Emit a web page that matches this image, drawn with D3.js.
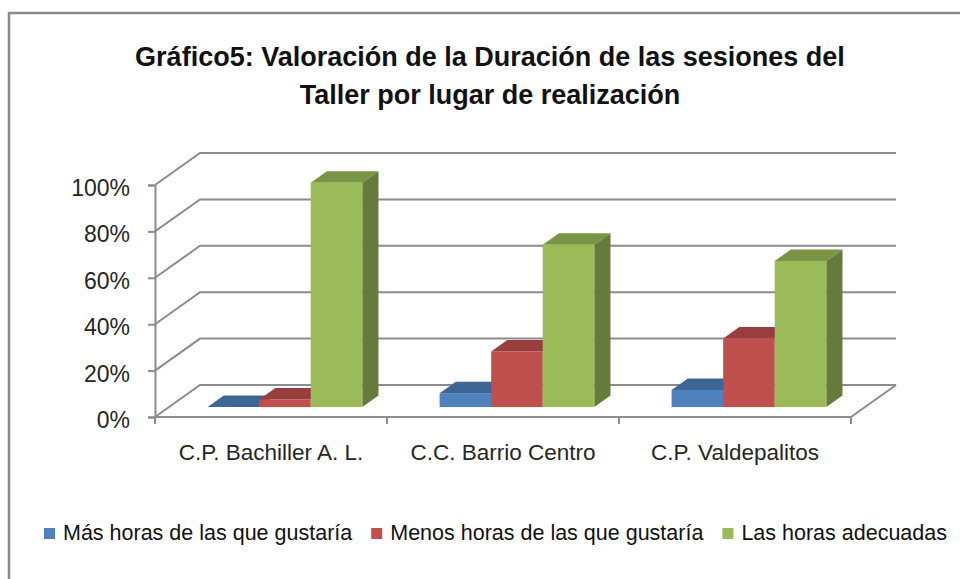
<!DOCTYPE html>
<html>
<head>
<meta charset="utf-8">
<title>Gráfico5</title>
<style>
  body { margin: 0; background: #fff; }
  svg { display: block; font-family: "Liberation Sans", Arial, sans-serif; }
</style>
</head>
<body>
<svg id="chart" width="960" height="579"></svg>
<script src="https://cdn.jsdelivr.net/npm/d3@7/dist/d3.min.js"></script>
<script>
// datos
var categorias = ["C.P. Bachiller A. L.", "C.C. Barrio Centro", "C.P. Valdepalitos"];
var series = ["Más horas de las que gustaría", "Menos horas de las que gustaría", "Las horas adecuadas"];
var masHoras = [0, 6, 7.4];
var menosHoras = [3.3, 24, 29.6];
var horasAdecuadas = [96.7, 70, 63];
var yTicks = [0, 20, 40, 60, 80, 100];
var titulo = ["Gráfico5: Valoración de la Duración de las sesiones del", "Taller por lugar de realización"];

var valores = [masHoras, menosHoras, horasAdecuadas];
var colores = ["#4F81BD", "#C0504D", "#9BBB59"];

var svg = d3.select("#chart");

// profundidad 3D (proyeccion oblicua)
var depth = { dx: 45, dy: -32 };
var barFront = 0.31, barBack = 0.67;

var x0 = d3.scaleBand().domain(categorias).range([155, 851]);
var x1 = d3.scaleBand().domain(series).range([0, x0.bandwidth()])
    .paddingInner(0).paddingOuter(0.75);
var y = d3.scaleLinear().domain([0, 100]).range([417, 185]);

// marco del grafico
svg.append("rect")
    .attr("x", 9).attr("y", 13)
    .attr("width", 1000).attr("height", 1000)
    .attr("fill", "none")
    .attr("stroke", "#8a8a8a")
    .attr("stroke-width", 2.5);

// titulo
svg.append("g").selectAll("text")
    .data(titulo)
    .join("text")
    .attr("x", 490)
    .attr("y", function(d, i) { return 66 + i * 38; })
    .attr("text-anchor", "middle")
    .attr("font-size", 27)
    .attr("font-weight", "bold")
    .attr("fill", "#111")
    .text(function(d) { return d; });

// paredes: lineas de division
var grid = svg.append("g")
    .attr("fill", "none")
    .attr("stroke", "#8c8c8c")
    .attr("stroke-width", 2);

grid.selectAll("path.wall")
    .data(yTicks)
    .join("path")
    .attr("class", "wall")
    .attr("d", function(t) {
        var yy = y(t);
        return "M" + x0.range()[0] + "," + yy +
            "L" + (x0.range()[0] + depth.dx) + "," + (yy + depth.dy) +
            "L" + (x0.range()[1] + depth.dx) + "," + (yy + depth.dy);
    });

// suelo
grid.append("path")
    .attr("d", "M" + x0.range()[0] + "," + y(0) +
        "L" + x0.range()[1] + "," + y(0) +
        "L" + (x0.range()[1] + depth.dx) + "," + (y(0) + depth.dy));

// eje Y
var yAxis = svg.append("g")
    .attr("transform", "translate(" + x0.range()[0] + ",0)")
    .call(d3.axisLeft(y).tickValues(yTicks).tickSize(7).tickPadding(18)
        .tickFormat(function(d) { return d + "%"; }));
yAxis.select(".domain").attr("stroke", "#8c8c8c").attr("stroke-width", 2);
yAxis.selectAll(".tick line").attr("stroke", "#8c8c8c").attr("stroke-width", 2);
yAxis.selectAll(".tick text")
    .attr("font-size", 23)
    .attr("font-family", "'Liberation Sans', Arial, sans-serif")
    .attr("fill", "#262626")
    .attr("dy", "0.46em");

// eje X: marcas en los limites y etiquetas centradas
var xAxis = svg.append("g");
var bordes = categorias.map(function(c) { return x0(c); }).concat([x0.range()[1]]);
xAxis.selectAll("line")
    .data(bordes)
    .join("line")
    .attr("x1", function(d) { return d; })
    .attr("x2", function(d) { return d; })
    .attr("y1", y(0))
    .attr("y2", y(0) + 7)
    .attr("stroke", "#8c8c8c")
    .attr("stroke-width", 2);
xAxis.selectAll("text")
    .data(categorias)
    .join("text")
    .attr("x", function(d) { return x0(d) + x0.bandwidth() / 2; })
    .attr("y", 460)
    .attr("text-anchor", "middle")
    .attr("font-size", 22.5)
    .attr("fill", "#262626")
    .text(function(d) { return d; });

// barras 3D
var fx = depth.dx * barFront, fy = depth.dy * barFront;
var bx = depth.dx * barBack, by = depth.dy * barBack;

function shade(c, k) {
    var r = d3.rgb(c);
    return d3.rgb(r.r * k, r.g * k, r.b * k).formatHex();
}

var barras = [];
categorias.forEach(function(cat, i) {
    series.forEach(function(s, j) {
        barras.push({ cat: cat, serie: s, j: j, v: valores[j][i] });
    });
});

var bars = svg.append("g").selectAll("g")
    .data(barras)
    .join("g");

bars.append("path") // cara lateral
    .attr("fill", function(d) { return shade(colores[d.j], 0.66); })
    .attr("d", function(d) {
        var xr = x0(d.cat) + x1(d.serie) + x1.bandwidth();
        var yt = y(d.v), yb = y(0);
        return "M" + (xr + fx) + "," + (yt + fy) +
            "L" + (xr + bx) + "," + (yt + by) +
            "L" + (xr + bx) + "," + (yb + by) +
            "L" + (xr + fx) + "," + (yb + fy) + "Z";
    });

bars.append("path") // cara superior
    .attr("fill", function(d) { return shade(colores[d.j], 0.79); })
    .attr("d", function(d) {
        var xl = x0(d.cat) + x1(d.serie), xr = xl + x1.bandwidth();
        var yt = y(d.v);
        return "M" + (xl + fx) + "," + (yt + fy) +
            "L" + (xr + fx) + "," + (yt + fy) +
            "L" + (xr + bx) + "," + (yt + by) +
            "L" + (xl + bx) + "," + (yt + by) + "Z";
    });

bars.append("rect") // cara frontal
    .attr("x", function(d) { return x0(d.cat) + x1(d.serie) + fx; })
    .attr("y", function(d) { return y(d.v) + fy; })
    .attr("width", x1.bandwidth())
    .attr("height", function(d) { return y(0) - y(d.v); })
    .attr("fill", function(d) { return colores[d.j]; });

// leyenda
var leyenda = svg.append("g");
var lx = 44;
series.forEach(function(s, j) {
    leyenda.append("rect")
        .attr("x", lx).attr("y", 528)
        .attr("width", 11).attr("height", 11)
        .attr("fill", colores[j]);
    var t = leyenda.append("text")
        .attr("x", lx + 19).attr("y", 540)
        .attr("font-size", 21.5)
        .attr("fill", "#111")
        .text(s);
    lx += 19 + t.node().getComputedTextLength() + 19;
});
</script>
</body>
</html>
